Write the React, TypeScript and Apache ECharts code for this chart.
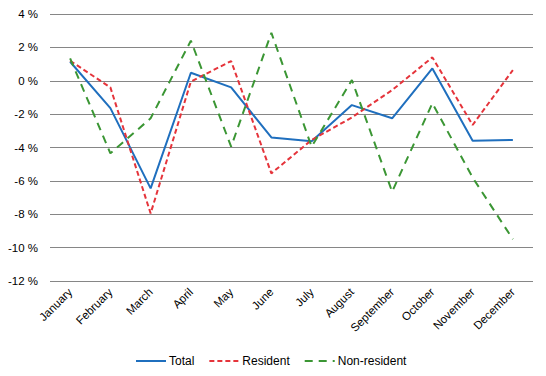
import React, { useEffect, useRef } from "react";
import * as echarts from "echarts";

const months = ["January", "February", "March", "April", "May", "June", "July", "August", "September", "October", "November", "December"];
const total = [1.14, -1.64, -6.45, 0.48, -0.4, -3.4, -3.62, -1.46, -2.25, 0.74, -3.6, -3.55];
const resident = [1.2, -0.4, -7.95, -0.05, 1.18, -5.55, -3.55, -2.2, -0.56, 1.4, -2.65, 0.64];
const nonResident = [1.34, -4.35, -2.25, 2.4, -3.95, 2.87, -3.95, 0.04, -6.65, -1.35, -5.8, -9.5];

export default function App() {
  const ref = useRef<HTMLDivElement>(null);
  useEffect(() => {
    document.body.style.margin = "0";
    const chart = echarts.init(ref.current!, undefined, { renderer: "svg" });
    const font = "'Liberation Sans', Arial, sans-serif";
    chart.setOption({
      animation: false,
      grid: { left: 50, right: 13, top: 14, bottom: 95 },
      legend: {
        top: 350,
        left: 130,
        itemWidth: 30,
        itemHeight: 12,
        itemGap: 14,
        itemStyle: { opacity: 0 },
        textStyle: { fontFamily: font, fontSize: 12, color: "#000", padding: [0, 0, 0, -2] },
        data: ["Total", "Resident", "Non-resident"],
      },
      xAxis: {
        type: "category",
        data: months,
        boundaryGap: true,
        axisLine: { show: false },
        axisTick: { show: false },
        axisLabel: { rotate: 45, interval: 0, fontFamily: font, fontSize: 11.5, color: "#000", margin: 9 },
      },
      yAxis: {
        type: "value",
        min: -12,
        max: 4,
        interval: 2,
        axisLine: { show: false },
        axisTick: { show: false },
        axisLabel: { formatter: (v: number) => `${v} %`, fontFamily: font, fontSize: 11.5, color: "#000", margin: 12 },
        splitLine: { lineStyle: { color: "#868686", width: 1 } },
      },
      series: [
        { name: "Total", type: "line", data: total, symbol: "none", lineStyle: { color: "#1f6fbe", width: 2 }, itemStyle: { color: "#1f6fbe" } },
        { name: "Resident", type: "line", data: resident, symbol: "none", lineStyle: { color: "#e5343b", width: 2, type: [5, 3] }, itemStyle: { color: "#e5343b" } },
        { name: "Non-resident", type: "line", data: nonResident, symbol: "none", lineStyle: { color: "#3b9634", width: 2, type: [8, 6] }, itemStyle: { color: "#3b9634" } },
      ],
    });
    return () => chart.dispose();
  }, []);
  return <div ref={ref} style={{ width: 546, height: 376 }} />;
}
